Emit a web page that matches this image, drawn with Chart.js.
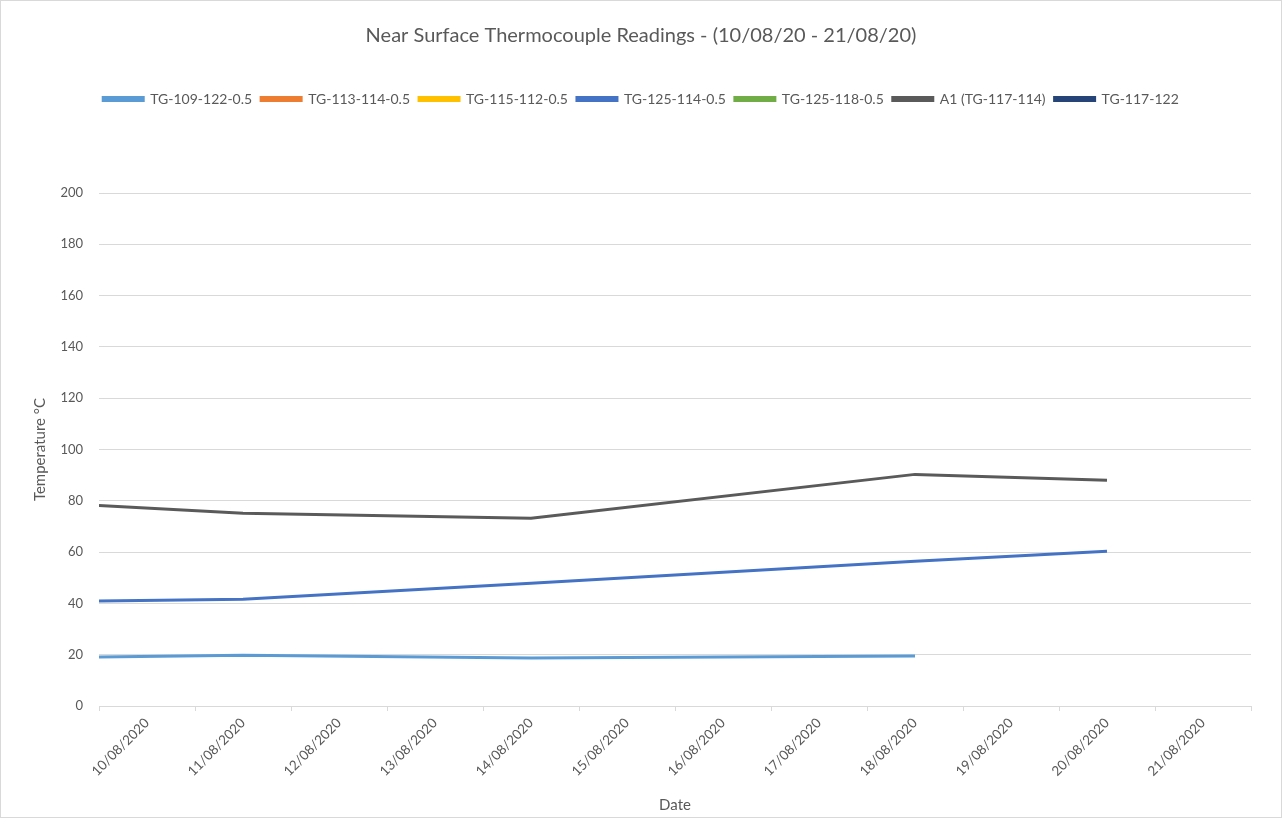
<!DOCTYPE html>
<html lang="en">
<head>
    <meta charset="UTF-8">
    <title>Near Surface Thermocouple Readings</title>
    <script src="https://cdn.jsdelivr.net/npm/chart.js@4"></script>
    <style>
        html, body { margin: 0; padding: 0; background: #fff; }
        #wrap { width: 1282px; height: 818px; box-sizing: border-box; border: 1px solid #d9d9d9; }
    </style>
</head>
<body>
    <div id="wrap">
        <canvas id="tc-chart" width="1280" height="816"></canvas>
    </div>

    <script>
        // axis labels
        const dateLabels = ['10/08/2020', '11/08/2020', '12/08/2020', '13/08/2020', '14/08/2020', '15/08/2020',
            '16/08/2020', '17/08/2020', '18/08/2020', '19/08/2020', '20/08/2020', '21/08/2020'];

        // reading times, in days from 10/08/2020 00:00
        const readingDays = [0, 1.5, 4.5, 8.5, 10.5];

        // readings (°C)
        const tg109_122 = [19.1, 19.8, 18.7, 19.5, null];
        const tg113_114 = [];
        const tg115_112 = [];
        const tg125_114 = [40.9, 41.6, 47.9, 56.4, 60.3];
        const tg125_118 = [];
        const a1_117_114 = [78.2, 75.1, 73.2, 90.3, 88.0];
        const tg117_122 = [];

        function toPoints(values) {
            return values.map((v, i) => ({ x: readingDays[i], y: v }));
        }

        function series(label, values, color) {
            return {
                label: label,
                data: toPoints(values),
                xAxisID: 'xv',
                borderColor: color,
                backgroundColor: color,
                borderWidth: 3,
                pointRadius: 0,
                tension: 0
            };
        }

        // leave a gap under the legend, like the original
        const legendGap = {
            id: 'legendGap',
            beforeInit(chart) {
                const fit = chart.legend.fit;
                chart.legend.fit = function () {
                    fit.bind(chart.legend)();
                    this.height += 77;
                };
            }
        };

        const textColor = '#595959';
        const gridColor = '#d9d9d9';
        Chart.defaults.font.family = 'Lato, "Open Sans", sans-serif';
        Chart.defaults.color = textColor;

        new Chart(document.getElementById('tc-chart').getContext('2d'), {
            type: 'line',
            data: {
                labels: dateLabels,
                datasets: [
                    series('TG-109-122-0.5', tg109_122, '#5b9bd5'),
                    series('TG-113-114-0.5', tg113_114, '#ed7d31'),
                    series('TG-115-112-0.5', tg115_112, '#ffc000'),
                    series('TG-125-114-0.5', tg125_114, '#4472c4'),
                    series('TG-125-118-0.5', tg125_118, '#70ad47'),
                    series('A1 (TG-117-114)', a1_117_114, '#5a5a5a'),
                    series('TG-117-122', tg117_122, '#264478')
                ]
            },
            plugins: [legendGap],
            options: {
                responsive: false,
                animation: false,
                layout: { padding: { left: 30, right: 30, top: 23, bottom: 0 } },
                plugins: {
                    title: {
                        display: true,
                        text: 'Near Surface Thermocouple Readings - (10/08/20 - 21/08/20)',
                        color: textColor,
                        font: { size: 20, weight: 'normal' },
                        padding: { top: 0, bottom: 35 }
                    },
                    legend: {
                        position: 'top',
                        labels: {
                            boxWidth: 40,
                            boxHeight: 3,
                            padding: 9,
                            color: textColor,
                            font: { size: 14 }
                        }
                    },
                    tooltip: { enabled: false }
                },
                scales: {
                    x: {
                        type: 'category',
                        offset: true,
                        grid: { offset: true, drawOnChartArea: false, drawTicks: true, tickLength: 5, color: gridColor },
                        border: { color: gridColor },
                        ticks: { minRotation: 45, maxRotation: 45, autoSkip: false, padding: 4, color: textColor, font: { size: 13.5 } },
                        title: { display: true, text: 'Date', color: textColor, font: { size: 15 }, padding: { top: 0, bottom: 3 } },
                        afterFit: (scale) => { scale.height = 111; }
                    },
                    xv: {
                        type: 'linear',
                        display: false,
                        min: 0,
                        max: 12
                    },
                    y: {
                        min: 0,
                        max: 200,
                        ticks: { stepSize: 20, padding: 16, color: textColor, font: { size: 13 } },
                        grid: { color: gridColor, drawTicks: false },
                        border: { display: false },
                        title: { display: true, text: 'Temperature °C', color: textColor, font: { size: 15 }, padding: { top: 0, bottom: 4 } },
                        afterFit: (scale) => { scale.width = 68; }
                    }
                }
            }
        });
    </script>
</body>
</html>
